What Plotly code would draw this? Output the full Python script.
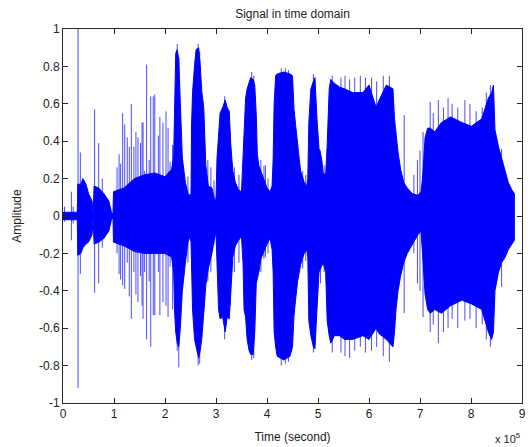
import plotly.graph_objects as go

# Envelope of the waveform, time in units of 1e5 samples
env_t = [0.00, 0.28, 0.29, 0.35, 0.39, 0.45, 0.50, 0.57, 0.59, 0.61, 0.70, 0.80, 0.90, 0.95, 0.98, 0.99,
         1.20, 1.40, 1.60, 1.80, 2.00, 2.13, 2.17, 2.19, 2.21, 2.24, 2.27, 2.30, 2.34, 2.40, 2.45, 2.49,
         2.51, 2.52, 2.54, 2.58, 2.61, 2.66, 2.69, 2.72, 2.76, 2.78, 2.80, 2.85, 2.92, 2.97, 3.00, 3.02,
         3.05, 3.08, 3.13, 3.18, 3.22, 3.26, 3.29, 3.33, 3.38, 3.44, 3.50, 3.53, 3.55, 3.58, 3.61, 3.65,
         3.68, 3.73, 3.76, 3.79, 3.81, 3.84, 3.88, 3.94, 4.00, 4.06, 4.10, 4.12, 4.14, 4.17, 4.20, 4.33,
         4.45, 4.50, 4.53, 4.56, 4.60, 4.63, 4.66, 4.73, 4.78, 4.80, 4.82, 4.86, 4.91, 4.94, 4.98, 5.02,
         5.07, 5.10, 5.15, 5.18, 5.22, 5.25, 5.32, 5.42, 5.52, 5.68, 5.88, 6.00, 6.14, 6.20, 6.34, 6.47,
         6.50, 6.53, 6.57, 6.62, 6.68, 6.75, 6.85, 6.96, 7.02, 7.05, 7.10, 7.15, 7.20, 7.29, 7.42, 7.60,
         7.82, 8.01, 8.21, 8.34, 8.405, 8.44, 8.47, 8.54, 8.60, 8.67, 8.73, 8.80, 8.85]
env_upper = [0.02, 0.02, 0.17, 0.17, 0.20, 0.17, 0.12, 0.08, 0.01, 0.16, 0.15, 0.12, 0.08, 0.02, 0.01, 0.13,
             0.15, 0.20, 0.22, 0.23, 0.21, 0.25, 0.32, 0.69, 0.87, 0.89, 0.84, 0.61, 0.31, 0.18, 0.12, 0.11,
             0.12, 0.48, 0.66, 0.81, 0.89, 0.90, 0.81, 0.67, 0.58, 0.43, 0.27, 0.16, 0.15, 0.09, 0.09, 0.31,
             0.42, 0.55, 0.58, 0.62, 0.58, 0.56, 0.38, 0.24, 0.18, 0.14, 0.13, 0.30, 0.40, 0.63, 0.68, 0.71,
             0.74, 0.73, 0.70, 0.54, 0.33, 0.27, 0.24, 0.20, 0.15, 0.13, 0.16, 0.30, 0.60, 0.75, 0.76, 0.77,
             0.76, 0.75, 0.57, 0.49, 0.36, 0.31, 0.24, 0.18, 0.16, 0.20, 0.50, 0.68, 0.72, 0.74, 0.52, 0.36,
             0.31, 0.23, 0.22, 0.38, 0.68, 0.73, 0.71, 0.69, 0.68, 0.66, 0.66, 0.70, 0.58, 0.62, 0.70, 0.68,
             0.52, 0.44, 0.34, 0.25, 0.18, 0.15, 0.12, 0.11, 0.13, 0.20, 0.42, 0.47, 0.47, 0.45, 0.50, 0.53,
             0.50, 0.48, 0.52, 0.63, 0.66, 0.70, 0.46, 0.37, 0.31, 0.25, 0.18, 0.14, 0.12]
env_lower = [-0.02, -0.02, -0.21, -0.20, -0.17, -0.15, -0.14, -0.10, -0.01, -0.15, -0.14, -0.12, -0.08, -0.02, -0.01, -0.14,
             -0.16, -0.19, -0.20, -0.20, -0.20, -0.22, -0.30, -0.52, -0.62, -0.68, -0.70, -0.60, -0.40, -0.25, -0.14, -0.11,
             -0.14, -0.28, -0.50, -0.66, -0.70, -0.76, -0.72, -0.66, -0.53, -0.45, -0.37, -0.28, -0.20, -0.12, -0.09, -0.30,
             -0.50, -0.55, -0.54, -0.62, -0.54, -0.55, -0.41, -0.22, -0.16, -0.13, -0.11, -0.25, -0.50, -0.54, -0.66, -0.72,
             -0.74, -0.74, -0.62, -0.36, -0.33, -0.30, -0.23, -0.19, -0.15, -0.12, -0.18, -0.30, -0.62, -0.70, -0.75, -0.77,
             -0.75, -0.70, -0.53, -0.45, -0.35, -0.30, -0.26, -0.20, -0.18, -0.22, -0.56, -0.64, -0.70, -0.71, -0.50, -0.30,
             -0.27, -0.25, -0.30, -0.56, -0.64, -0.68, -0.64, -0.64, -0.66, -0.66, -0.64, -0.66, -0.60, -0.63, -0.66, -0.70,
             -0.62, -0.50, -0.40, -0.32, -0.25, -0.20, -0.15, -0.10, -0.08, -0.20, -0.42, -0.50, -0.52, -0.50, -0.52, -0.48,
             -0.45, -0.47, -0.50, -0.62, -0.66, -0.62, -0.40, -0.30, -0.25, -0.22, -0.18, -0.15, -0.13]

# Individual peaks sticking out of the envelope
spike_t = [0.03, 0.165, 0.20, 0.295, 0.34, 0.62, 0.70, 0.77, 1.06, 1.10, 1.13, 1.17, 1.21, 1.26, 1.30, 1.34,
           1.39, 1.43, 1.47, 1.52, 1.55, 1.57, 1.60, 1.64, 1.69, 1.72, 1.77, 1.80, 1.87, 1.90, 1.96, 2.02,
           2.06, 2.10, 2.15, 2.24, 2.27, 2.45, 2.65, 2.68, 2.84, 2.90, 2.96, 3.17, 3.28, 3.36, 3.45, 3.70,
           3.74, 3.88, 3.94, 3.97, 4.02, 4.28, 4.36, 4.42, 4.70, 4.76, 4.91, 5.05, 5.12, 5.28, 5.45, 5.53,
           5.62, 5.72, 5.83, 5.93, 6.05, 6.15, 6.28, 6.40, 6.69, 6.88, 6.95, 7.00, 7.06, 7.20, 7.26, 7.36,
           7.46, 7.55, 7.63, 7.74, 7.88, 7.98, 8.10, 8.22, 8.30, 8.38, 8.60]
spike_hi = [0.05, 0.13, 0.05, 1.00, 0.34, 0.57, 0.39, 0.20, 0.26, 0.33, 0.28, 0.55, 0.49, 0.42, 0.37, 0.60,
            0.37, 0.45, 0.42, 0.39, 0.50, 0.50, 0.24, 0.81, 0.30, 0.64, 0.64, 0.65, 0.43, 0.53, 0.50, 0.56,
            0.47, 0.29, 0.38, 0.92, 0.85, 0.21, 0.92, 0.88, 0.30, 0.26, 0.19, 0.64, 0.45, 0.26, 0.22, 0.77,
            0.75, 0.30, 0.27, 0.27, 0.20, 0.79, 0.79, 0.78, 0.24, 0.22, 0.76, 0.35, 0.27, 0.75, 0.74, 0.75,
            0.73, 0.74, 0.75, 0.74, 0.74, 0.72, 0.75, 0.75, 0.54, 0.22, 0.30, 0.35, 0.45, 0.61, 0.55, 0.62,
            0.58, 0.63, 0.60, 0.58, 0.62, 0.60, 0.56, 0.58, 0.66, 0.70, 0.36]
spike_lo = [-0.03, -0.13, -0.04, -0.92, -0.31, -0.41, -0.36, -0.17, -0.20, -0.31, -0.34, -0.37, -0.39, -0.25, -0.43, -0.55,
            -0.30, -0.42, -0.46, -0.32, -0.48, -0.55, -0.30, -0.66, -0.35, -0.70, -0.53, -0.53, -0.30, -0.53, -0.46, -0.48,
            -0.54, -0.27, -0.50, -0.72, -0.81, -0.25, -0.80, -0.79, -0.35, -0.30, -0.15, -0.66, -0.48, -0.30, -0.25, -0.77,
            -0.76, -0.30, -0.23, -0.22, -0.20, -0.80, -0.79, -0.78, -0.28, -0.24, -0.73, -0.36, -0.30, -0.73, -0.73, -0.75,
            -0.76, -0.72, -0.70, -0.73, -0.72, -0.70, -0.75, -0.78, -0.52, -0.20, -0.36, -0.40, -0.54, -0.62, -0.58, -0.68,
            -0.62, -0.60, -0.55, -0.60, -0.56, -0.55, -0.60, -0.58, -0.66, -0.70, -0.38]

x_tickvals = [0, 1, 2, 3, 4, 5, 6, 7, 8, 9]
x_ticktext = ["0", "1", "2", "3", "4", "5", "6", "7", "8", "9"]
y_tickvals = [-1, -0.8, -0.6, -0.4, -0.2, 0, 0.2, 0.4, 0.6, 0.8, 1]
y_ticktext = ["-1", "-0.8", "-0.6", "-0.4", "-0.2", "0", "0.2", "0.4", "0.6", "0.8", "1"]

BLUE = "#0000FF"
FONT = "Liberation Sans, Arial, sans-serif"
TXT = "#222222"

fig = go.Figure()

# Spikes as thin vertical strokes (drawn first, body covers the inner part)
sx, sy = [], []
for t, hi, lo in zip(spike_t, spike_hi, spike_lo):
    sx += [t, t, None]
    sy += [lo, hi, None]
fig.add_trace(go.Scatter(x=sx, y=sy, mode="lines", line=dict(color="rgba(30,30,255,0.8)", width=1),
                         hoverinfo="skip", showlegend=False))

# Body: polygon between upper and lower envelope
poly_x = list(env_t) + list(reversed(env_t))
poly_y = list(env_upper) + list(reversed(env_lower))
fig.add_trace(go.Scatter(x=poly_x, y=poly_y, fill="toself", fillcolor=BLUE, mode="lines",
                         line=dict(color=BLUE, width=1), hoverinfo="skip", showlegend=False))

axis_common = dict(showgrid=False, zeroline=False, showline=True, linecolor="#262626", linewidth=1,
                   mirror="ticks", ticks="inside", ticklen=5, tickcolor="#262626", automargin=False,
                   tickfont=dict(family=FONT, size=12, color=TXT))

fig.update_xaxes(range=[0, 9], tickvals=x_tickvals, ticktext=x_ticktext,
                 title=dict(text="Time (second)", font=dict(family=FONT, size=12, color=TXT), standoff=12),
                 **axis_common)
fig.update_yaxes(range=[-1, 1], tickvals=y_tickvals, ticktext=y_ticktext,
                 title=dict(text="Amplitude", font=dict(family=FONT, size=12, color=TXT), standoff=14),
                 **axis_common)

fig.update_layout(
    width=531, height=447,
    margin=dict(l=63, r=9, t=29, b=44, autoexpand=False),
    paper_bgcolor="white", plot_bgcolor="white",
    title=dict(text="Signal in time domain", x=0.5, xref="paper", xanchor="center",
               y=1 - 14 / 447, yref="container", yanchor="middle",
               font=dict(family=FONT, size=12, color=TXT)),
    annotations=[dict(text="x 10<sup>5</sup>", xref="paper", yref="paper", x=1.0, y=0, xanchor="right",
                      yanchor="top", yshift=-26, showarrow=False,
                      font=dict(family=FONT, size=11, color=TXT))],
)

fig.write_html("out.html", config={"displayModeBar": False, "staticPlot": True},
               post_script="document.body.style.margin='0';document.body.style.padding='0';")
